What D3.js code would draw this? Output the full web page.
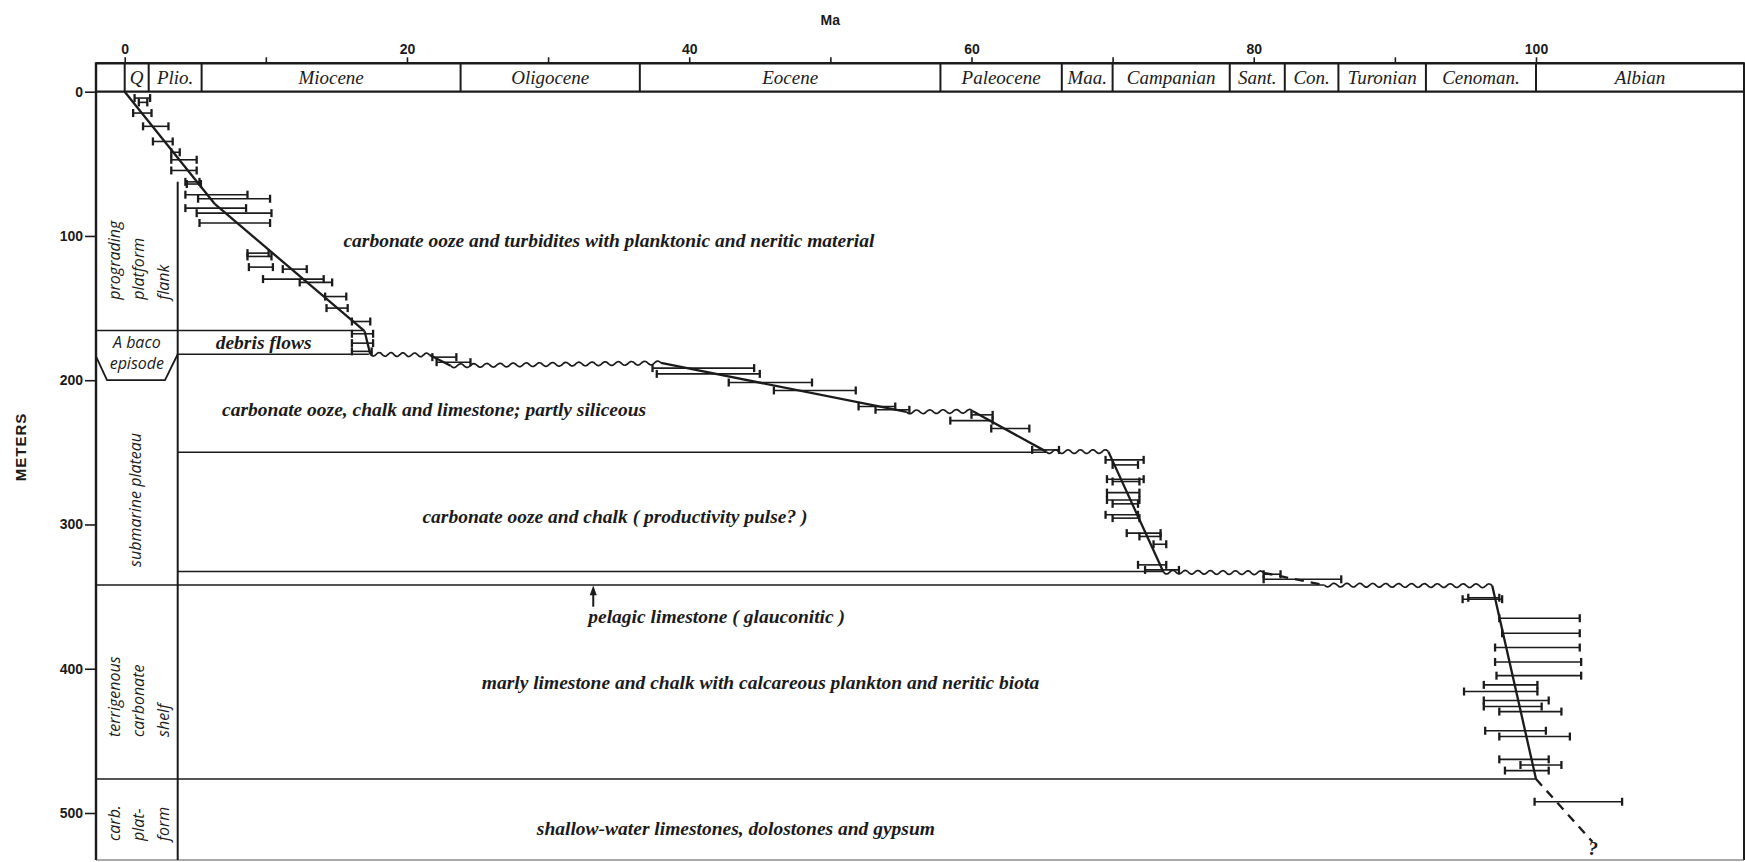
<!DOCTYPE html>
<html>
<head>
<meta charset="utf-8">
<script src="https://cdnjs.cloudflare.com/ajax/libs/d3/7.8.5/d3.min.js"></script>
<style>
  body { margin: 0; background: #fff; }
  svg { display: block; }
  .axis text { font-family: "Liberation Sans", Arial, sans-serif; font-weight: bold; font-size: 14px; fill: #1b1b1b; }
  .axis line { stroke: #1b1b1b; stroke-width: 1.6; }
  .axis .domain { display: none; }
  .stage { font-family: "Liberation Serif", serif; font-style: italic; font-size: 19px; fill: #1b1b1b; }
  .unit { font-family: "Liberation Serif", serif; font-style: italic; font-weight: bold; font-size: 19.5px; fill: #1b1b1b; }
  .facies { font-family: "Open Sans", sans-serif; font-style: italic; font-size: 16px; fill: #1b1b1b; }
</style>
</head>
<body>
<svg width="1745" height="862"></svg>
<script>
// ---- data ----
// stratigraphic stages (start age, Ma)
var stageNames  = ["Q", "Plio.", "Miocene", "Oligocene", "Eocene", "Paleocene", "Maa.", "Campanian", "Sant.", "Con.", "Turonian", "Cenoman.", "Albian"];
var stageStarts = [0, 1.7, 5.45, 23.8, 36.5, 57.8, 66.4, 70.0, 78.3, 82.2, 86.0, 92.2, 100.0];

// age control: sample depth (m), youngest and oldest possible age (Ma)
var sampleDepth = [4.4, 7.4, 14.8, 24, 34.5, 42, 47.2, 54.6, 62.5, 64, 71.4, 74.2, 80.7, 84.2, 91,
  111.9, 114.2, 121.6, 123, 129.9, 132.2, 142, 150, 159.3, 167.8, 174.3, 180,
  184, 187.5,
  191.6, 195.6, 201.6, 207.1, 218.2, 220.5,
  224, 228, 233.5, 248.3,
  255.2, 258.7, 268.6, 270.2, 277.9, 283, 285.7, 293.3, 295.6, 306, 308.3, 313.7, 328, 331.5,
  334.5, 338,
  350.8, 351.8, 365, 375.4, 385.3, 395.3, 404.8, 411.2, 415.8, 422, 426.2, 429.7, 443, 447, 462.8, 466.7, 470.6,
  492.2];
var sampleYoung = [0.7, 1.0, 0.6, 1.3, 2.0, 3.3, 3.3, 3.3, 4.3, 4.4, 4.3, 5.2, 4.3, 5.1, 5.3,
  8.7, 8.7, 8.8, 11.2, 9.8, 12.4, 14.2, 14.3, 16.1, 16.1, 16.1, 16.1,
  21.8, 22.1,
  37.4, 37.7, 42.8, 46.0, 52.0, 53.2,
  60.0, 58.5, 61.4, 64.3,
  69.5, 70.0, 69.6, 70.0, 69.6, 69.6, 70.0, 69.5, 70.0, 71.0, 71.9, 72.9, 71.8, 72.3,
  80.7, 80.7,
  95.2, 94.8, 97.4, 97.6, 97.1, 97.1, 97.2, 96.3, 94.9, 96.3, 96.3, 97.4, 96.4, 97.4, 97.4, 98.9, 97.8,
  99.9];
var sampleOld = [1.8, 1.6, 1.9, 3.1, 3.4, 3.9, 5.1, 5.1, 5.3, 5.4, 8.7, 10.3, 8.6, 10.4, 10.3,
  10.2, 10.4, 10.5, 12.9, 14.1, 14.7, 15.7, 15.8, 17.4, 17.6, 17.6, 17.5,
  23.5, 24.5,
  44.6, 45.0, 48.7, 51.8, 54.6, 55.6,
  61.5, 61.5, 64.1, 66.2,
  72.2, 71.8, 72.2, 71.9, 71.9, 71.9, 71.8, 71.8, 71.9, 73.4, 73.4, 73.8, 73.8, 74.7,
  81.9, 86.2,
  97.4, 97.6, 103.1, 103.1, 103.1, 103.2, 103.2, 100.1, 100.1, 100.9, 100.4, 101.8, 100.7, 102.4, 100.9, 101.8, 100.9,
  106.1];

// age-depth curve; curveStyle[i] is the segment from point i to point i+1
var curveAge   = [0, 6.4, 17.0, 17.4, 21.6, 23.1, 38.0, 55.4, 60.1, 65.3, 69.7, 73.6, 80.7, 85.0, 96.9, 100.0, 104.0];
var curveDepth = [0, 78, 166, 182, 182.5, 190, 188, 222, 221.5, 249.5, 249.5, 333, 333.5, 342, 342.5, 476.4, 520];
var curveStyle = ["solid", "solid", "solid", "wavy", "solid", "wavy", "solid", "wavy", "solid", "wavy",
  "solid", "wavy", "dashed", "wavy", "solid", "dashed"];

// lithologic unit boundaries: depth, starts at frame or column edge, ends at age
var boundaryDepth = [165.5, 182, 250, 332.6, 342, 476.4];
var boundaryFrom  = ["frame", "column", "column", "column", "frame", "frame"];
var boundaryToAge = [16.9, 17.3, 65.3, 73.6, 85.0, 100.0];

// unit descriptions (start age, baseline depth)
var unitText = ["carbonate ooze and turbidites with planktonic and neritic material",
  "debris flows",
  "carbonate ooze, chalk and limestone; partly siliceous",
  "carbonate ooze and chalk ( productivity pulse? )",
  "pelagic limestone ( glauconitic )",
  "marly limestone and chalk with calcareous plankton and neritic biota",
  "shallow-water limestones, dolostones and gypsum"];
var unitAge   = [15.5, 6.45, 6.9, 21.1, 32.85, 25.3, 29.2];
var unitDepth = [107.5, 178.2, 224.7, 298.9, 368, 414, 515.3];

// environment column labels (vertical), bottom depth of each
var faciesLines = [["prograding", "platform", "flank"], ["submarine plateau"],
  ["terrigenous", "carbonate", "shelf"], ["carb.", "plat-", "form"]];
var faciesBottom = [144.2, 329.4, 447.3, 519.4];
var abacoLines = ["A baco", "episode"];
var abacoDepth = [177.6, 192.1];

var xTicks = d3.range(0, 101, 10);
var yTicks = d3.range(0, 501, 100);

// ---- layout ----
var ink = "#1b1b1b";
var svg = d3.select("svg");
var x = d3.scaleLinear().domain([0, 100]).range([124.7, 1536]);
var y = d3.scaleLinear().domain([0, 500]).range([91.7, 813]);
var frameL = 96, frameR = 1744, frameT = 63.3, frameB = 860;
var colRight = 177.7, colTop = y(62.4);

// header band
var g = svg.append("g");
g.append("line").attr("x1", frameL).attr("x2", frameR).attr("y1", frameT).attr("y2", frameT)
  .attr("stroke", ink).attr("stroke-width", 2.4);
g.append("line").attr("x1", frameL).attr("x2", frameR).attr("y1", y(0)).attr("y2", y(0))
  .attr("stroke", ink).attr("stroke-width", 2.2);
g.selectAll(".sb").data(stageStarts).enter().append("line")
  .attr("x1", d => x(d)).attr("x2", d => x(d)).attr("y1", frameT).attr("y2", y(0))
  .attr("stroke", ink).attr("stroke-width", 2);
g.selectAll(".st").data(stageNames).enter().append("text")
  .attr("class", "stage")
  .attr("x", (d, i) => {
    var a = x(stageStarts[i]);
    var b = i < stageStarts.length - 1 ? x(stageStarts[i + 1]) : frameR;
    return (a + b) / 2;
  })
  .attr("y", (frameT + y(0)) / 2 + 6.5)
  .attr("text-anchor", "middle")
  .text(d => d);

// frame
svg.append("line").attr("x1", frameL).attr("x2", frameL).attr("y1", frameT - 1).attr("y2", frameB)
  .attr("stroke", ink).attr("stroke-width", 2.4);
svg.append("line").attr("x1", frameR).attr("x2", frameR).attr("y1", frameT - 1).attr("y2", frameB)
  .attr("stroke", ink).attr("stroke-width", 2);
svg.append("line").attr("x1", frameL).attr("x2", frameR).attr("y1", frameB).attr("y2", frameB)
  .attr("stroke", "#555").attr("stroke-width", 1.2);

// axes
var xAxis = d3.axisTop(x).tickValues(xTicks).tickSize(6).tickPadding(3)
  .tickFormat(d => d % 20 === 0 ? d : "");
svg.append("g").attr("class", "axis").attr("transform", "translate(0," + frameT + ")").call(xAxis);
var yAxis = d3.axisLeft(y).tickValues(yTicks).tickSize(11).tickPadding(2);
svg.append("g").attr("class", "axis").attr("transform", "translate(" + frameL + ",0)").call(yAxis);

svg.append("text").attr("x", x(50)).attr("y", 25).attr("text-anchor", "middle")
  .attr("font-family", "Liberation Sans, Arial, sans-serif").attr("font-weight", "bold")
  .attr("font-size", 14).attr("fill", ink).text("Ma");
svg.append("text").attr("transform", "translate(26," + 447 + ") rotate(-90)")
  .attr("text-anchor", "middle")
  .attr("font-family", "Liberation Sans, Arial, sans-serif").attr("font-weight", "bold")
  .attr("font-size", 15).attr("letter-spacing", 1).attr("fill", ink).text("METERS");

// environment column
svg.append("line").attr("x1", colRight).attr("x2", colRight).attr("y1", colTop).attr("y2", frameB)
  .attr("stroke", ink).attr("stroke-width", 2);
svg.append("path")
  .attr("d", d3.line()([[frameL, y(183.5)], [107, y(200)], [165, y(200)], [colRight, y(182)]]))
  .attr("fill", "none").attr("stroke", ink).attr("stroke-width", 1.8);

// unit boundaries
svg.selectAll(".ub").data(boundaryDepth).enter().append("line")
  .attr("x1", (d, i) => boundaryFrom[i] === "frame" ? frameL : colRight)
  .attr("x2", (d, i) => x(boundaryToAge[i]))
  .attr("y1", d => y(d)).attr("y2", d => y(d))
  .attr("stroke", ink).attr("stroke-width", 1.5);

// facies labels
faciesLines.forEach(function (lines, k) {
  var xs = lines.length === 1 ? [141] : [119.5, 144, 168.5];
  lines.forEach(function (t, j) {
    svg.append("text").attr("class", "facies")
      .attr("transform", "translate(" + xs[j] + "," + y(faciesBottom[k]) + ") rotate(-90)")
      .text(t);
  });
});
abacoLines.forEach(function (t, j) {
  svg.append("text").attr("class", "facies").attr("x", (frameL + colRight) / 2)
    .attr("y", y(abacoDepth[j])).attr("text-anchor", "middle").text(t);
});

// unit descriptions
svg.selectAll(".ut").data(unitText).enter().append("text")
  .attr("class", "unit")
  .attr("x", (d, i) => x(unitAge[i])).attr("y", (d, i) => y(unitDepth[i]))
  .text(d => d);

// arrow to the pelagic limestone level
svg.append("line").attr("x1", x(33.2)).attr("x2", x(33.2)).attr("y1", y(357)).attr("y2", y(346))
  .attr("stroke", ink).attr("stroke-width", 2);
svg.append("path")
  .attr("d", d3.line()([[x(33.2) - 3.5, y(349)], [x(33.2), y(342.3)], [x(33.2) + 3.5, y(349)]]) + "Z")
  .attr("fill", ink);

// error bars
var bars = svg.append("g");
sampleDepth.forEach(function (d, i) {
  var yy = y(d), x0 = x(sampleYoung[i]), x1 = x(sampleOld[i]);
  bars.append("line").attr("x1", x0).attr("x2", x1).attr("y1", yy).attr("y2", yy)
    .attr("stroke", ink).attr("stroke-width", 1.6);
  [x0, x1].forEach(function (xx) {
    bars.append("line").attr("x1", xx).attr("x2", xx).attr("y1", yy - 4).attr("y2", yy + 4)
      .attr("stroke", ink).attr("stroke-width", 2.3);
  });
});

// age-depth curve
function wavy(a0, d0, a1, d1) {
  var x0 = x(a0), y0 = y(d0), x1 = x(a1), y1 = y(d1);
  var L = Math.hypot(x1 - x0, y1 - y0), ux = (x1 - x0) / L, uy = (y1 - y0) / L;
  var n = Math.max(1, Math.round(L / 13)), pts = [];
  for (var t = 0; t <= L; t += 1) {
    var off = 1.9 * Math.sin(2 * Math.PI * n * t / L);
    pts.push([x0 + ux * t - uy * off, y0 + uy * t + ux * off]);
  }
  pts.push([x1, y1]);
  return d3.line().curve(d3.curveBasis)(pts);
}
curveStyle.forEach(function (s, i) {
  var a0 = curveAge[i], d0 = curveDepth[i], a1 = curveAge[i + 1], d1 = curveDepth[i + 1];
  var p = svg.append("path").attr("fill", "none").attr("stroke", ink);
  if (s === "wavy") {
    p.attr("d", wavy(a0, d0, a1, d1)).attr("stroke-width", 1.7);
  } else {
    p.attr("d", d3.line()([[x(a0), y(d0)], [x(a1), y(d1)]])).attr("stroke-width", 2.3);
    if (s === "dashed") p.attr("stroke-dasharray", "9,7");
  }
});
svg.append("text").attr("class", "unit").attr("font-size", 16)
  .attr("x", x(103.7)).attr("y", y(529)).text("?");
</script>
</body>
</html>
